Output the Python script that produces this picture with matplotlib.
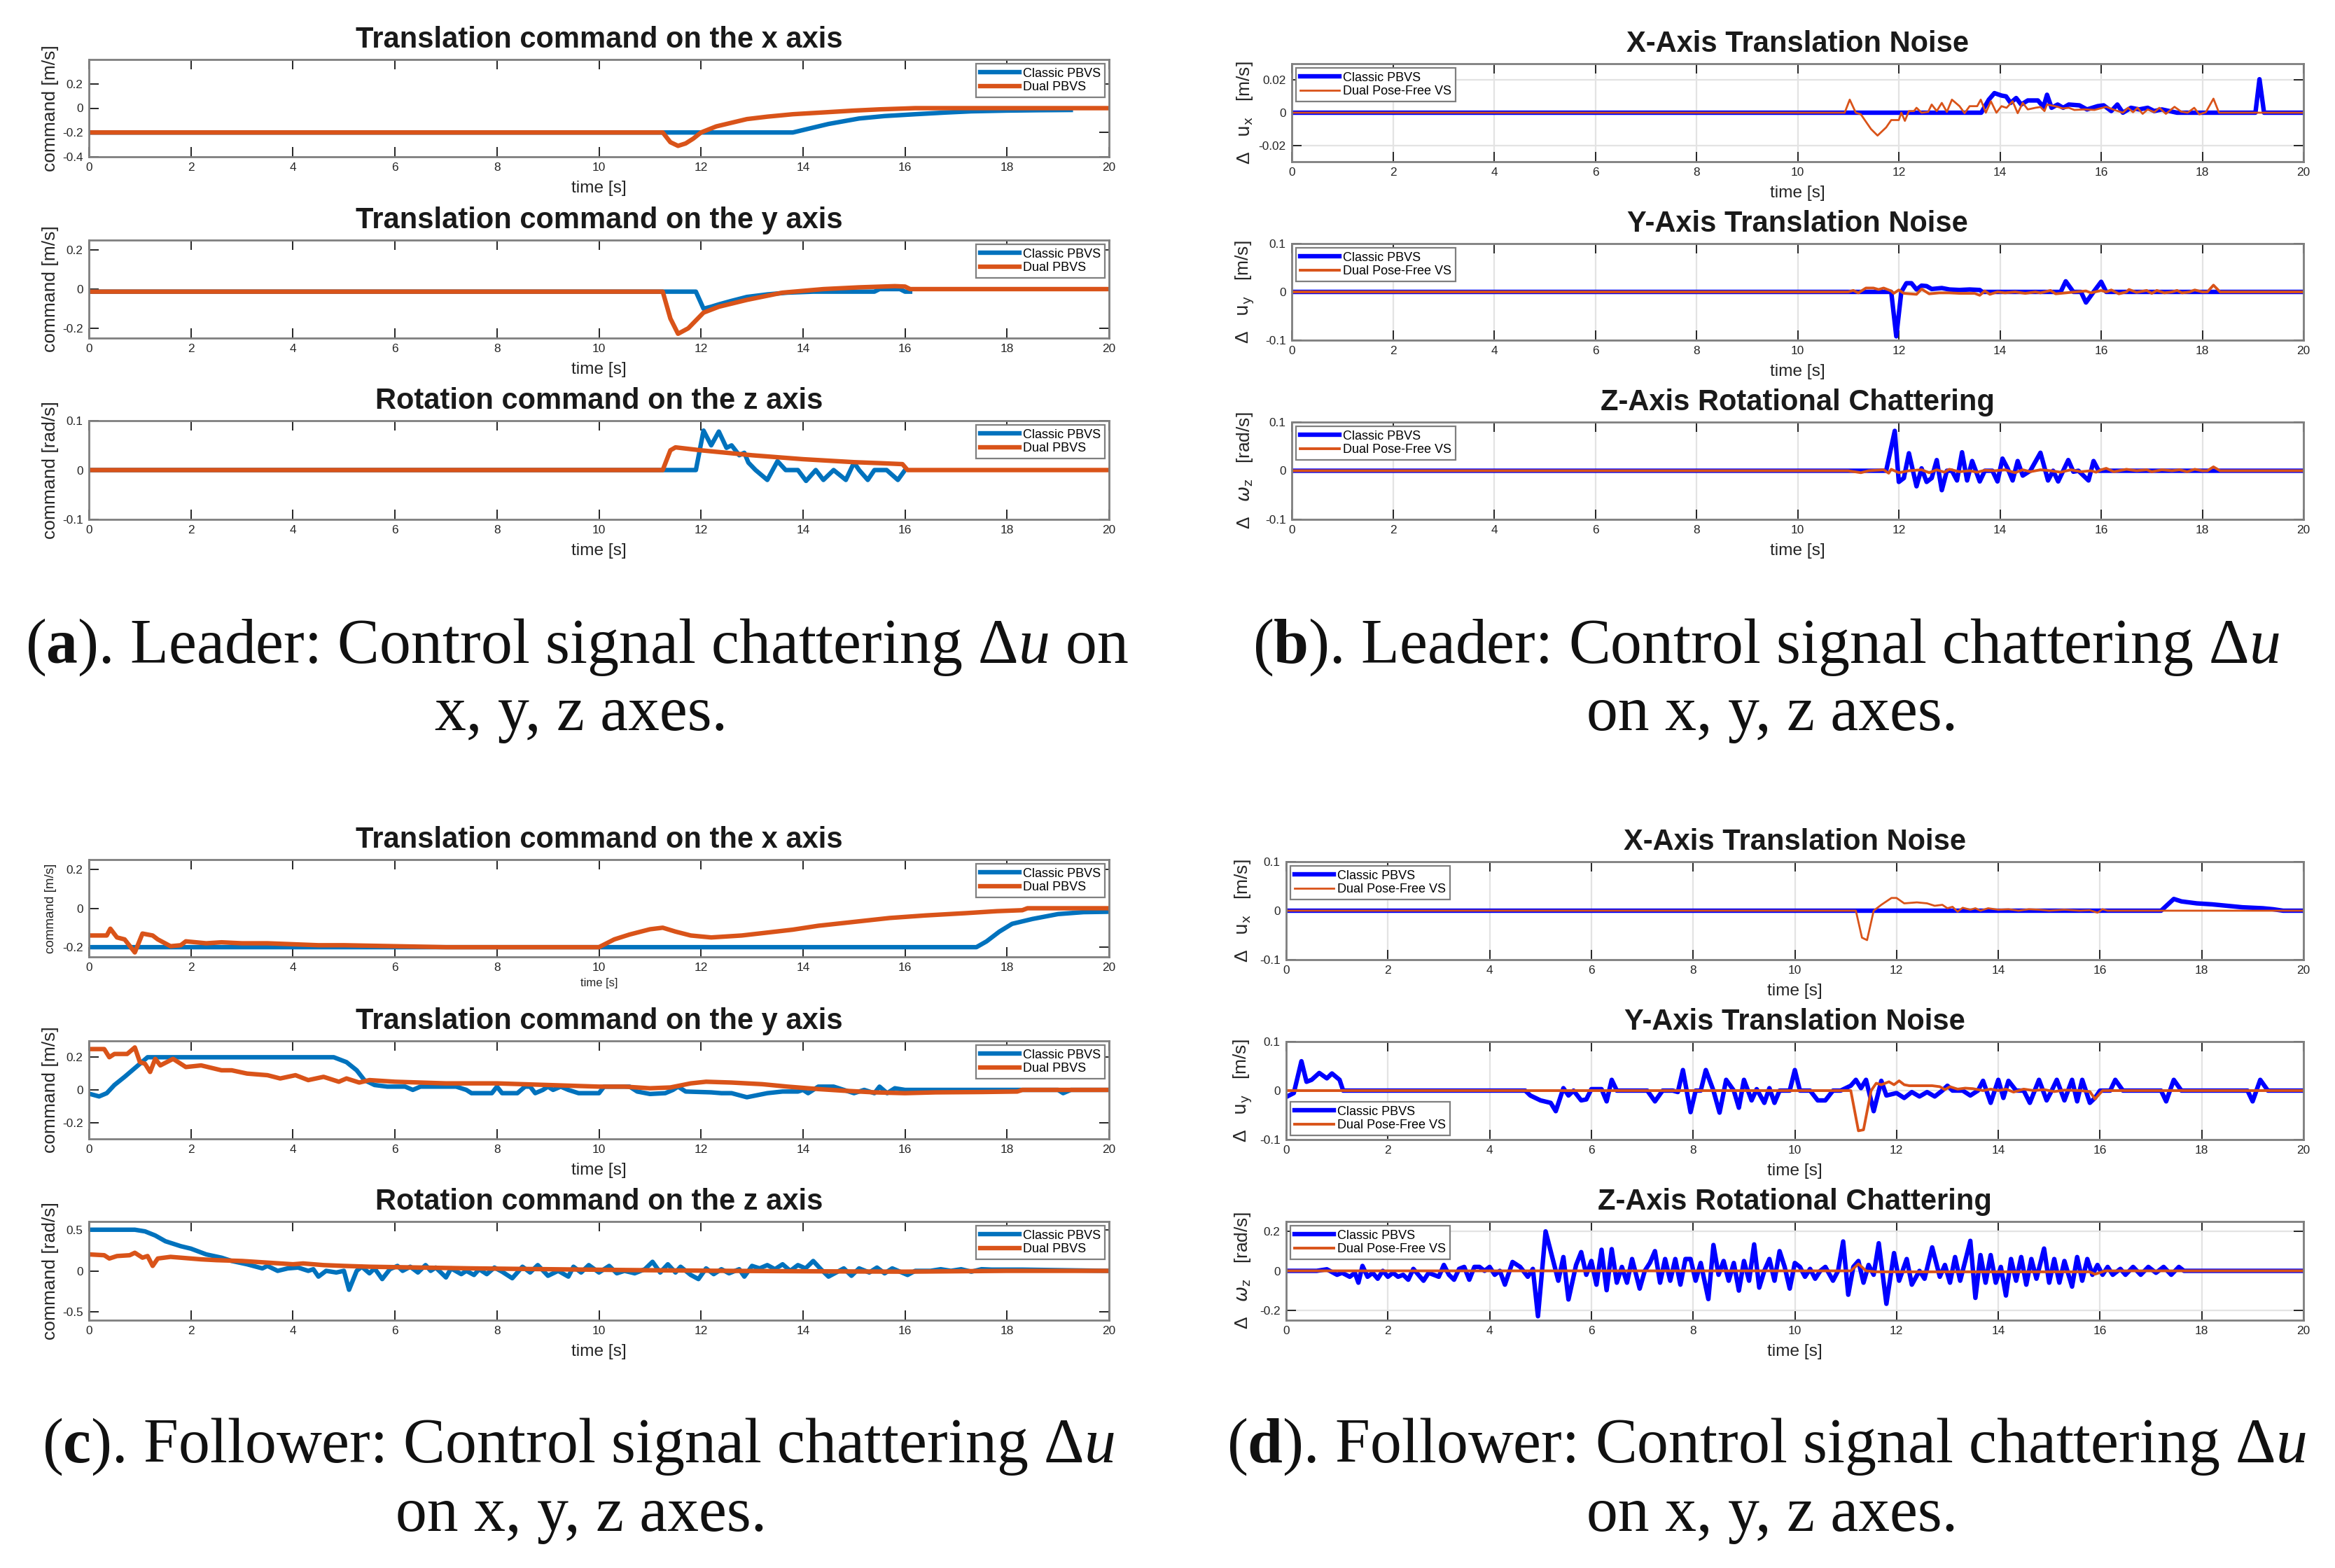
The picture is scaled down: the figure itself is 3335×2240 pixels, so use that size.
import numpy as np
import matplotlib
matplotlib.use("Agg")
import matplotlib.pyplot as plt

plt.rcParams['font.family'] = ['Liberation Sans', 'DejaVu Sans']
plt.rcParams['mathtext.fontset'] = 'custom'
plt.rcParams['mathtext.rm'] = 'Liberation Serif'
plt.rcParams['mathtext.it'] = 'Liberation Serif:italic'
plt.rcParams['mathtext.bf'] = 'Liberation Serif:bold'

W, H = 3335, 2240

# ---------------- data (time [s], value) ----------------
# (a) leader, classic PBVS vs dual PBVS
a1_classic = [(0, -0.2), (13.8, -0.2), (14.1, -0.17), (14.5, -0.13), (15.1, -0.085), (15.6, -0.065),
              (16.2, -0.05), (16.8, -0.036), (17.3, -0.026), (18.0, -0.02), (18.6, -0.017), (19.25, -0.015)]
a1_dual = [(0, -0.2), (11.25, -0.2), (11.4, -0.28), (11.55, -0.31), (11.7, -0.29), (11.85, -0.25),
           (12.0, -0.2), (12.3, -0.15), (12.6, -0.12), (12.9, -0.09), (13.3, -0.07), (13.8, -0.05),
           (14.4, -0.035), (15.0, -0.02), (15.5, -0.01), (16.0, -0.003), (16.2, 0.0), (20, 0.0)]

a2_classic = [(0, -0.013), (11.9, -0.013), (12.05, -0.1), (12.2, -0.09), (12.35, -0.078), (12.6, -0.06),
              (12.9, -0.04), (13.3, -0.027), (13.7, -0.018), (14.2, -0.013), (15.4, -0.013), (15.5, 0.0),
              (15.9, 0.0), (16.0, -0.013), (16.1, -0.013)]
a2_dual = [(0, -0.013), (11.25, -0.013), (11.4, -0.15), (11.55, -0.228), (11.75, -0.2), (11.9, -0.16),
           (12.05, -0.12), (12.35, -0.09), (12.9, -0.055), (13.6, -0.018), (14.4, 0.0), (15.1, 0.009),
           (15.8, 0.015), (16.0, 0.013), (16.1, 0.0), (20, 0.0)]

a3_classic = [(0, 0), (11.9, 0), (12.05, 0.08), (12.2, 0.05), (12.35, 0.078), (12.5, 0.045), (12.6, 0.05),
              (12.75, 0.03), (12.85, 0.035), (12.93, 0.015), (13.07, 0.0), (13.3, -0.02), (13.5, 0.018),
              (13.66, 0.0), (13.9, 0.0), (14.06, -0.022), (14.25, 0.0), (14.4, -0.02), (14.6, 0.0),
              (14.84, -0.02), (15.0, 0.015), (15.1, 0.0), (15.27, -0.02), (15.4, 0.0), (15.64, 0.0),
              (15.86, -0.02), (16.0, 0.0)]
a3_dual = [(0, 0), (11.25, 0), (11.4, 0.04), (11.5, 0.046), (12.0, 0.04), (12.5, 0.035), (13.0, 0.03),
           (13.5, 0.026), (14.0, 0.022), (14.5, 0.019), (15.0, 0.016), (15.5, 0.014), (15.95, 0.012),
           (16.05, 0.0), (20, 0.0)]

# (b) leader, chattering of classic PBVS vs dual pose-free VS
b1_classic = [(0, 0), (13.63, 0), (13.78, 0.008), (13.89, 0.012), (14.03, 0.0105), (14.12, 0.01),
              (14.21, 0.006), (14.32, 0.009), (14.42, 0.005), (14.55, 0.0075), (14.75, 0.0075),
              (14.86, 0.0035), (14.93, 0.011), (15.02, 0.003), (15.14, 0.005), (15.25, 0.003),
              (15.36, 0.005), (15.57, 0.0045), (15.72, 0.002), (15.93, 0.004), (16.05, 0.0045),
              (16.2, 0.001), (16.32, 0.005), (16.43, 0.0), (16.59, 0.003), (16.75, 0.002), (16.92, 0.003),
              (17.05, 0.001), (17.2, 0.002), (17.5, 0.0), (19.05, 0.0), (19.13, 0.0205), (19.22, 0.0), (20, 0.0)]
b1_dual = [(0, 0), (10.93, 0), (11.03, 0.008), (11.15, 0.0), (11.25, -0.001), (11.45, -0.01),
           (11.58, -0.014), (11.75, -0.009), (11.85, -0.0045), (12.0, -0.0045), (12.05, 0.0),
           (12.12, -0.005), (12.2, 0.001), (12.3, 0.001), (12.35, 0.003), (12.45, 0.0), (12.58, 0.0005),
           (12.65, 0.005), (12.75, 0.001), (12.85, 0.006), (12.95, 0.0005), (13.05, 0.008), (13.2, 0.004),
           (13.3, -0.0003), (13.4, 0.004), (13.55, 0.004), (13.62, 0.008), (13.72, 0.0), (13.82, 0.007),
           (13.93, 0.0), (14.03, 0.004), (14.13, 0.003), (14.25, 0.007), (14.35, -0.0003), (14.45, 0.006),
           (14.55, 0.002), (14.7, 0.003), (14.8, 0.0035), (14.88, 0.001), (14.93, 0.005), (15.14, 0.0036),
           (15.24, 0.0026), (15.36, 0.003), (15.47, 0.0017), (15.67, 0.002), (15.87, 0.0017), (16.1, 0.0036),
           (16.26, 0.0017), (16.43, 0.0), (16.53, 0.003), (16.63, 0.0003), (16.72, 0.003), (16.82, -0.0007),
           (16.92, 0.002), (17.05, 0.0003), (17.15, 0.003), (17.28, -0.0007), (17.45, 0.0036),
           (17.58, 0.0007), (17.71, 0.0), (17.84, 0.003), (17.94, -0.001), (18.07, 0.0003), (18.22, 0.0086),
           (18.33, 0.0), (20, 0.0)]

b2_classic = [(0, 0), (11.85, 0), (11.95, -0.092), (12.05, 0.0), (12.15, 0.018), (12.25, 0.018),
              (12.35, 0.005), (12.45, 0.013), (12.55, 0.012), (12.65, 0.006), (12.85, 0.008), (13.0, 0.005),
              (13.2, 0.004), (13.4, 0.005), (13.6, 0.004), (13.65, 0.0), (15.2, 0.0), (15.3, 0.022),
              (15.45, 0.0), (15.6, 0.0), (15.7, -0.022), (15.85, 0.0), (16.0, 0.021), (16.1, 0.0), (20, 0.0)]
b2_dual = [(0, 0), (11.0, 0), (11.1, 0.003), (11.2, -0.002), (11.35, 0.008), (11.5, 0.008), (11.6, 0.005),
           (11.7, 0.008), (11.85, 0.002), (11.9, -0.003), (12.0, 0.004), (12.1, -0.003), (12.35, -0.005),
           (12.45, 0.006), (12.6, -0.004), (12.8, -0.002), (13.0, -0.002), (13.2, -0.003), (13.5, -0.003),
           (13.6, -0.007), (13.7, 0.002), (13.8, -0.005), (13.95, 0.0), (14.1, -0.002), (14.3, 0.0),
           (14.5, -0.003), (14.7, 0.0), (14.8, -0.002), (15.0, 0.003), (15.1, -0.004), (15.3, -0.002),
           (15.5, 0.0), (15.7, 0.002), (15.8, -0.002), (16.0, 0.003), (16.1, 0.0), (16.2, 0.004),
           (16.35, -0.004), (16.5, 0.0), (16.55, 0.005), (16.7, -0.001), (16.9, 0.003), (17.0, -0.003),
           (17.1, 0.003), (17.25, -0.002), (17.4, 0.0), (17.5, 0.003), (17.6, -0.002), (17.75, 0.0),
           (17.85, 0.004), (18.0, 0.0), (18.1, 0.0), (18.22, 0.014), (18.35, 0.0), (20, 0.0)]

b3_classic = [(0, 0), (11.75, 0), (11.92, 0.082), (12.0, -0.023), (12.1, -0.015), (12.2, 0.036),
              (12.35, -0.032), (12.45, 0.005), (12.55, -0.023), (12.65, -0.015), (12.75, 0.022),
              (12.85, -0.04), (12.95, 0.0), (13.05, 0.0), (13.15, -0.02), (13.25, 0.038), (13.35, -0.02),
              (13.45, 0.02), (13.6, -0.022), (13.7, 0.0), (13.85, 0.0), (13.95, -0.022), (14.05, 0.025),
              (14.15, 0.005), (14.25, -0.02), (14.35, 0.02), (14.45, -0.01), (14.6, 0.0), (14.8, 0.037),
              (14.95, -0.02), (15.05, 0.0), (15.15, -0.022), (15.35, 0.022), (15.45, -0.002), (15.55, 0.0),
              (15.75, -0.02), (15.85, 0.02), (15.95, 0.0), (20, 0.0)]
b3_dual = [(0, 0), (11.0, 0), (11.25, -0.004), (11.4, 0.0), (11.7, 0.002), (11.8, -0.005), (11.85, 0.003),
           (12.0, -0.004), (12.2, 0.0), (12.45, 0.002), (12.6, -0.004), (12.75, 0.002), (12.9, -0.003),
           (13.0, 0.003), (13.2, -0.002), (13.4, 0.0), (13.55, -0.003), (13.7, 0.001), (13.9, 0.0),
           (14.1, 0.002), (14.3, -0.004), (14.45, 0.002), (14.6, -0.002), (14.8, 0.002), (15.0, 0.0),
           (15.2, -0.003), (15.4, 0.002), (15.6, -0.002), (15.8, 0.0), (15.9, -0.003), (16.0, 0.002),
           (16.1, 0.005), (16.25, -0.002), (16.5, 0.003), (16.7, 0.0), (16.9, 0.002), (17.0, -0.002),
           (17.2, 0.002), (17.4, 0.0), (17.55, 0.002), (17.7, -0.002), (17.85, 0.003), (18.0, 0.0),
           (18.1, 0.0), (18.22, 0.008), (18.35, 0.0), (20, 0.0)]

# (c) follower, classic PBVS vs dual PBVS
c1_classic = [(0, -0.2), (17.4, -0.2), (17.6, -0.17), (17.85, -0.12), (18.1, -0.08), (18.5, -0.055),
              (19.0, -0.03), (19.5, -0.02), (20, -0.018)]
c1_dual = [(0, -0.14), (0.35, -0.14), (0.42, -0.105), (0.55, -0.15), (0.7, -0.16), (0.9, -0.227),
           (1.05, -0.13), (1.25, -0.14), (1.35, -0.16), (1.6, -0.195), (1.8, -0.19), (1.9, -0.17),
           (2.3, -0.18), (2.6, -0.175), (3.0, -0.18), (3.5, -0.18), (4.0, -0.185), (4.5, -0.19),
           (5.0, -0.19), (6.0, -0.195), (7.0, -0.2), (8.0, -0.2), (9.0, -0.2), (10.0, -0.2), (10.3, -0.16),
           (10.6, -0.135), (11.0, -0.108), (11.25, -0.1), (11.5, -0.12), (11.8, -0.14), (12.2, -0.15),
           (12.8, -0.14), (13.3, -0.125), (13.8, -0.11), (14.3, -0.09), (15.0, -0.07), (15.7, -0.05),
           (16.4, -0.037), (17.2, -0.025), (17.8, -0.015), (18.3, -0.01), (18.4, 0.0), (20, 0.0)]

c2_classic = [(0, -0.023), (0.2, -0.04), (0.35, -0.02), (0.5, 0.03), (0.7, 0.08), (0.85, 0.12), (1.0, 0.16),
              (1.15, 0.2), (4.8, 0.2), (5.05, 0.17), (5.25, 0.12), (5.4, 0.06), (5.6, 0.03), (5.85, 0.02),
              (6.2, 0.02), (6.35, 0.0), (6.5, 0.02), (7.2, 0.02), (7.4, 0.0), (7.5, -0.02), (7.9, -0.02),
              (8.0, 0.02), (8.1, -0.02), (8.4, -0.02), (8.55, 0.02), (8.65, 0.02), (8.75, -0.02), (8.9, 0.0),
              (9.0, 0.02), (9.1, 0.0), (9.25, 0.02), (9.4, 0.0), (9.6, -0.02), (10.0, -0.02), (10.1, 0.02),
              (10.6, 0.02), (10.75, -0.01), (11.0, -0.025), (11.3, -0.02), (11.45, 0.0), (11.55, 0.02),
              (11.7, -0.01), (12.2, -0.015), (12.4, -0.02), (12.6, -0.02), (12.9, -0.045), (13.3, -0.02),
              (13.6, -0.01), (13.9, -0.01), (14.0, 0.0), (14.1, -0.02), (14.3, 0.02), (14.6, 0.02),
              (14.8, 0.0), (15.0, -0.02), (15.2, 0.0), (15.4, -0.02), (15.5, 0.02), (15.65, -0.02),
              (15.8, 0.01), (16.0, 0.0), (19.0, 0.0), (19.1, -0.02), (19.25, 0.0), (20, 0.0)]
c2_dual = [(0, 0.25), (0.3, 0.25), (0.4, 0.2), (0.5, 0.22), (0.75, 0.22), (0.9, 0.26), (1.0, 0.17),
           (1.1, 0.16), (1.2, 0.11), (1.3, 0.19), (1.4, 0.15), (1.65, 0.19), (1.9, 0.14), (2.2, 0.15),
           (2.6, 0.12), (2.8, 0.12), (3.1, 0.1), (3.5, 0.09), (3.75, 0.07), (4.05, 0.09), (4.3, 0.06),
           (4.6, 0.08), (4.9, 0.05), (5.05, 0.07), (5.3, 0.045), (5.5, 0.06), (6.0, 0.05), (7.0, 0.04),
           (8.0, 0.04), (9.0, 0.03), (10.0, 0.02), (10.5, 0.02), (11.0, 0.01), (11.4, 0.015), (11.8, 0.04),
           (12.1, 0.05), (12.6, 0.045), (13.2, 0.035), (13.7, 0.02), (14.3, 0.005), (14.8, -0.005),
           (15.4, -0.015), (16.0, -0.02), (16.6, -0.015), (17.5, -0.013), (18.2, -0.01), (18.3, 0.0), (20, 0.0)]

c3_classic = [(0, 0.5), (0.9, 0.5), (1.1, 0.48), (1.3, 0.43), (1.5, 0.36), (1.65, 0.33), (1.8, 0.3),
              (2.0, 0.27), (2.3, 0.2), (2.6, 0.16), (2.8, 0.12), (3.1, 0.08), (3.4, 0.03), (3.5, 0.06),
              (3.7, 0.0), (3.9, 0.03), (4.1, 0.04), (4.3, 0.0), (4.4, 0.02), (4.5, -0.07), (4.65, 0.0),
              (4.85, -0.02), (5.0, 0.0), (5.1, -0.23), (5.25, 0.0), (5.35, 0.05), (5.5, -0.03), (5.6, 0.03),
              (5.75, -0.1), (5.9, 0.02), (6.05, 0.06), (6.15, 0.0), (6.3, 0.05), (6.45, -0.02), (6.6, 0.07),
              (6.7, 0.0), (6.8, 0.04), (7.0, -0.08), (7.1, 0.03), (7.3, -0.04), (7.4, 0.0), (7.55, -0.05),
              (7.65, 0.02), (7.8, -0.04), (7.95, 0.04), (8.1, -0.01), (8.3, -0.09), (8.5, 0.05), (8.65, -0.02),
              (8.8, 0.07), (9.0, -0.06), (9.2, 0.0), (9.4, -0.07), (9.5, 0.05), (9.65, -0.02), (9.8, 0.07),
              (10.0, -0.02), (10.2, 0.06), (10.35, -0.03), (10.5, 0.0), (10.7, -0.03), (10.9, 0.02),
              (11.05, 0.11), (11.2, -0.02), (11.35, 0.08), (11.5, -0.02), (11.6, 0.05), (11.8, -0.05),
              (11.95, -0.1), (12.1, 0.03), (12.25, -0.04), (12.4, 0.02), (12.55, -0.03), (12.75, 0.02),
              (12.85, -0.07), (13.0, 0.06), (13.15, 0.03), (13.3, 0.07), (13.45, 0.02), (13.6, 0.08),
              (13.75, 0.0), (13.9, 0.07), (14.05, 0.03), (14.2, 0.12), (14.35, 0.02), (14.5, -0.07),
              (14.65, -0.02), (14.8, 0.03), (14.95, -0.06), (15.1, 0.03), (15.3, -0.02), (15.45, 0.04),
              (15.6, -0.03), (15.75, 0.03), (15.9, -0.01), (16.05, -0.05), (16.2, 0.0), (16.5, 0.0),
              (16.7, 0.02), (16.9, 0.0), (17.1, 0.02), (17.3, -0.01), (17.5, 0.02), (17.7, 0.015),
              (18.3, 0.015), (20, 0.0)]
c3_dual = [(0, 0.2), (0.3, 0.19), (0.4, 0.15), (0.55, 0.18), (0.8, 0.19), (0.9, 0.22), (1.05, 0.16),
           (1.15, 0.18), (1.25, 0.06), (1.35, 0.15), (1.6, 0.17), (1.8, 0.16), (2.2, 0.14), (2.5, 0.13),
           (3.0, 0.12), (3.5, 0.1), (4.0, 0.08), (4.2, 0.09), (4.6, 0.07), (5.0, 0.06), (5.5, 0.05),
           (6.5, 0.04), (7.5, 0.03), (9.0, 0.02), (10.5, 0.01), (12.5, 0.0), (14.0, -0.005), (16.0, -0.01),
           (18.0, 0.0), (20, 0.0)]

# (d) follower, chattering of classic PBVS vs dual pose-free VS
d1_classic = [(0, 0), (17.2, 0), (17.45, 0.024), (17.6, 0.019), (17.9, 0.015), (18.2, 0.013),
              (18.5, 0.01), (18.8, 0.007), (19.2, 0.005), (19.4, 0.003), (19.6, 0.0), (20, 0.0)]
d1_dual = [(0, 0), (11.2, 0), (11.32, -0.055), (11.42, -0.06), (11.55, 0.0), (11.7, 0.012), (11.9, 0.026),
           (12.0, 0.026), (12.15, 0.015), (12.4, 0.017), (12.6, 0.015), (12.75, 0.01), (12.9, 0.012),
           (13.0, 0.005), (13.1, 0.008), (13.2, -0.002), (13.3, 0.006), (13.45, 0.002), (13.55, 0.005),
           (13.65, 0.0), (13.8, 0.005), (14.0, 0.002), (14.2, 0.003), (14.4, 0.0), (14.6, 0.003),
           (14.8, 0.002), (15.0, 0.0), (15.3, 0.002), (15.6, 0.0), (15.8, 0.001), (15.95, -0.004),
           (16.05, 0.003), (16.15, 0.0), (20, 0.0)]

d2_classic = [(0, -0.013), (0.15, -0.005), (0.3, 0.06), (0.4, 0.018), (0.5, 0.022), (0.65, 0.036),
              (0.8, 0.025), (0.9, 0.035), (1.05, 0.022), (1.12, 0.0), (4.7, 0.0), (4.8, -0.01), (5.0, -0.02),
              (5.2, -0.025), (5.3, -0.042), (5.45, 0.005), (5.55, -0.01), (5.65, 0.0), (5.8, -0.02),
              (5.9, -0.018), (6.0, 0.003), (6.2, 0.003), (6.3, -0.022), (6.4, 0.022), (6.5, 0.0), (7.1, 0.0),
              (7.25, -0.022), (7.4, 0.0), (7.6, 0.0), (7.7, -0.003), (7.8, 0.042), (7.95, -0.044),
              (8.05, 0.0), (8.15, 0.0), (8.25, 0.042), (8.4, 0.0), (8.52, -0.045), (8.65, 0.022), (8.8, 0.0),
              (8.9, -0.035), (9.0, 0.022), (9.15, -0.02), (9.25, 0.003), (9.4, -0.025), (9.5, 0.005),
              (9.6, -0.025), (9.7, 0.0), (9.9, 0.0), (10.0, 0.042), (10.1, 0.0), (10.3, 0.0), (10.45, -0.02),
              (10.6, -0.02), (10.75, 0.0), (10.9, 0.0), (11.1, 0.01), (11.2, 0.022), (11.3, 0.005),
              (11.4, 0.022), (11.55, -0.042), (11.7, 0.02), (11.8, -0.01), (12.0, -0.005), (12.15, -0.015),
              (12.3, -0.003), (12.45, -0.012), (12.6, -0.003), (12.75, -0.012), (12.9, 0.0), (13.0, 0.01),
              (13.1, 0.0), (13.3, 0.0), (13.45, -0.01), (13.6, 0.0), (13.7, 0.02), (13.85, -0.025),
              (14.0, 0.022), (14.1, -0.015), (14.2, 0.02), (14.35, 0.0), (14.5, 0.0), (14.62, -0.025),
              (14.8, 0.022), (14.95, -0.02), (15.05, 0.0), (15.15, 0.022), (15.3, -0.02), (15.45, 0.022),
              (15.55, -0.022), (15.65, 0.022), (15.8, -0.025), (15.9, -0.015), (16.0, 0.0), (16.2, 0.0),
              (16.3, 0.022), (16.45, 0.0), (17.2, 0.0), (17.3, -0.022), (17.45, 0.022), (17.6, 0.0),
              (18.9, 0.0), (19.0, -0.022), (19.15, 0.022), (19.3, 0.0), (20, 0.0)]
d2_dual = [(0, 0), (11.1, 0), (11.25, -0.082), (11.35, -0.08), (11.5, 0.0), (11.6, 0.015), (11.7, 0.012),
           (11.85, 0.018), (11.95, 0.012), (12.05, 0.02), (12.15, 0.012), (12.25, 0.01), (12.5, 0.01),
           (12.7, 0.01), (12.85, 0.008), (12.95, 0.002), (13.05, 0.008), (13.2, 0.003), (13.35, 0.005),
           (13.5, 0.004), (13.7, 0.0), (13.85, 0.003), (14.0, 0.0), (14.15, 0.003), (14.3, -0.003),
           (14.5, 0.003), (14.7, 0.0), (14.9, 0.002), (15.1, -0.002), (15.3, 0.001), (15.6, 0.0),
           (15.8, -0.002), (15.9, -0.017), (16.05, 0.0), (20, 0.0)]

d3_classic = [(0, 0), (0.6, 0), (0.8, 0.008), (1.0, -0.02), (1.1, -0.01), (1.25, -0.03), (1.35, -0.01),
              (1.42, -0.06), (1.5, 0.025), (1.6, -0.03), (1.7, -0.01), (1.8, -0.04), (1.9, 0.0), (2.0, -0.03),
              (2.1, -0.01), (2.2, -0.03), (2.3, -0.02), (2.4, -0.045), (2.5, 0.01), (2.6, -0.02), (2.7, -0.05),
              (2.8, -0.01), (3.0, -0.03), (3.1, 0.03), (3.2, -0.02), (3.3, -0.045), (3.4, 0.01), (3.5, 0.02),
              (3.6, -0.045), (3.7, 0.02), (3.8, 0.02), (3.9, 0.0), (4.0, 0.02), (4.1, -0.02), (4.2, 0.0),
              (4.3, -0.07), (4.45, 0.045), (4.6, 0.02), (4.75, -0.03), (4.85, 0.01), (4.95, -0.23),
              (5.1, 0.2), (5.25, 0.05), (5.35, -0.05), (5.45, 0.07), (5.55, -0.145), (5.7, 0.03), (5.8, 0.095),
              (5.9, -0.02), (6.0, 0.05), (6.1, -0.07), (6.2, 0.107), (6.3, -0.098), (6.4, 0.11), (6.5, -0.06),
              (6.6, 0.02), (6.7, -0.06), (6.8, 0.06), (6.95, -0.09), (7.05, 0.0), (7.15, 0.04), (7.25, 0.1),
              (7.35, -0.06), (7.45, 0.06), (7.55, -0.05), (7.65, 0.06), (7.75, -0.07), (7.85, 0.06),
              (7.95, 0.06), (8.05, -0.05), (8.15, 0.04), (8.3, -0.143), (8.4, 0.131), (8.5, -0.02),
              (8.6, 0.05), (8.7, -0.05), (8.8, 0.04), (8.9, -0.1), (9.0, 0.05), (9.1, -0.05), (9.2, 0.134),
              (9.3, -0.085), (9.4, 0.0), (9.5, 0.06), (9.6, -0.05), (9.7, 0.1), (9.8, 0.02), (9.9, -0.09),
              (10.0, 0.04), (10.1, 0.02), (10.2, -0.03), (10.3, 0.01), (10.4, -0.04), (10.5, 0.0),
              (10.6, 0.02), (10.75, -0.05), (10.85, 0.0), (10.95, 0.149), (11.05, -0.121), (11.15, 0.02),
              (11.25, 0.05), (11.35, -0.06), (11.45, 0.03), (11.55, -0.02), (11.65, 0.14), (11.8, -0.167),
              (11.95, 0.09), (12.05, -0.05), (12.2, 0.06), (12.3, -0.07), (12.45, 0.0), (12.55, -0.04),
              (12.7, 0.119), (12.85, -0.03), (12.95, 0.03), (13.05, -0.06), (13.15, 0.07), (13.25, -0.05),
              (13.35, 0.05), (13.45, 0.152), (13.55, -0.137), (13.65, 0.08), (13.75, -0.06), (13.85, 0.08),
              (13.95, -0.06), (14.05, 0.02), (14.15, -0.125), (14.25, 0.06), (14.35, -0.05), (14.45, 0.07),
              (14.55, -0.07), (14.65, 0.06), (14.75, -0.04), (14.9, 0.113), (15.0, -0.06), (15.1, 0.06),
              (15.2, -0.06), (15.3, 0.05), (15.45, -0.08), (15.55, 0.07), (15.65, -0.05), (15.75, 0.06),
              (15.85, -0.02), (15.95, 0.03), (16.05, -0.02), (16.15, 0.02), (16.25, -0.02), (16.4, 0.01),
              (16.5, -0.02), (16.65, 0.02), (16.8, -0.02), (16.95, 0.02), (17.1, -0.01), (17.25, 0.02),
              (17.4, -0.02), (17.55, 0.02), (17.65, 0.0), (20, 0.0)]
d3_dual = [(0, 0), (11.1, 0), (11.25, 0.035), (11.4, 0.0), (11.6, -0.005), (15.8, -0.005), (15.9, -0.017),
           (16.1, 0.0), (20, 0.0)]

# ---------------- text / axes settings ----------------
titles_ac = ["Translation command on the x axis", "Translation command on the y axis",
             "Rotation command on the z axis"]
titles_bd = ["X-Axis Translation Noise", "Y-Axis Translation Noise", "Z-Axis Rotational Chattering"]
ylabels_ac = ["command [m/s]", "command [m/s]", "command [rad/s]"]
ylabels_bd = [r"Δ   $\mathrm{u}_{\mathrm{x}}$   [m/s]", r"Δ   $\mathrm{u}_{\mathrm{y}}$   [m/s]",
              r"Δ   $\omega_{\mathrm{z}}$   [rad/s]"]
legend_ac = ["Classic PBVS", "Dual PBVS"]
legend_bd = ["Classic PBVS", "Dual Pose-Free VS"]
xticks = list(range(0, 21, 2))

captions = {
    'a': (r"($\mathbf{a}$). Leader: Control signal chattering $\Delta u$ on", "x, y, z axes."),
    'b': (r"($\mathbf{b}$). Leader: Control signal chattering $\Delta u$", "on x, y, z axes."),
    'c': (r"($\mathbf{c}$). Follower: Control signal chattering $\Delta u$", "on x, y, z axes."),
    'd': (r"($\mathbf{d}$). Follower: Control signal chattering $\Delta u$", "on x, y, z axes."),
}

BLUE_AC, BLUE_BD, ORANGE = '#0072BD', '#0000FF', '#D95319'
SPINE = '#7f7f7f'

# pixel boxes [x0, y0, x1, y1]
boxes = {
    'a': [(127, 85, 1584, 224), (127, 343, 1584, 483), (127, 601, 1584, 742)],
    'b': [(1845, 91, 3290, 231), (1845, 348, 3290, 486), (1845, 603, 3290, 742)],
    'c': [(127, 1228, 1584, 1367), (127, 1487, 1584, 1627), (127, 1745, 1584, 1886)],
    'd': [(1837, 1231, 3290, 1371), (1837, 1488, 3290, 1628), (1837, 1745, 3290, 1886)],
}

panel_series = {
    'a': [(a1_classic, a1_dual), (a2_classic, a2_dual), (a3_classic, a3_dual)],
    'b': [(b1_classic, b1_dual), (b2_classic, b2_dual), (b3_classic, b3_dual)],
    'c': [(c1_classic, c1_dual), (c2_classic, c2_dual), (c3_classic, c3_dual)],
    'd': [(d1_classic, d1_dual), (d2_classic, d2_dual), (d3_classic, d3_dual)],
}

yaxes = {
    'a': [((-0.4, 0.4), [-0.4, -0.2, 0, 0.2], ['-0.4', '-0.2', '0', '0.2']),
          ((-0.25, 0.25), [-0.2, 0, 0.2], ['-0.2', '0', '0.2']),
          ((-0.1, 0.1), [-0.1, 0, 0.1], ['-0.1', '0', '0.1'])],
    'b': [((-0.03, 0.03), [-0.02, 0, 0.02], ['-0.02', '0', '0.02']),
          ((-0.1, 0.1), [-0.1, 0, 0.1], ['-0.1', '0', '0.1']),
          ((-0.1, 0.1), [-0.1, 0, 0.1], ['-0.1', '0', '0.1'])],
    'c': [((-0.25, 0.25), [-0.2, 0, 0.2], ['-0.2', '0', '0.2']),
          ((-0.3, 0.3), [-0.2, 0, 0.2], ['-0.2', '0', '0.2']),
          ((-0.6, 0.6), [-0.5, 0, 0.5], ['-0.5', '0', '0.5'])],
    'd': [((-0.1, 0.1), [-0.1, 0, 0.1], ['-0.1', '0', '0.1']),
          ((-0.1, 0.1), [-0.1, 0, 0.1], ['-0.1', '0', '0.1']),
          ((-0.25, 0.25), [-0.2, 0, 0.2], ['-0.2', '0', '0.2'])],
}

# ylabel centre x position in pixels
ylabel_x = {'a': 72, 'b': 1778, 'c': 72, 'd': 1775}


def add_px_axes(fig, box):
    x0, y0, x1, y1 = box
    return fig.add_axes([x0 / W, 1 - y1 / H, (x1 - x0) / W, (y1 - y0) / H])


fig = plt.figure(figsize=(W / 200, H / 200), dpi=200)

for key in 'abcd':
    matlab_pair = key in 'ac'
    for i in range(3):
        box = boxes[key][i]
        ax = add_px_axes(fig, box)
        classic, dual = panel_series[key][i]
        ct, cv = zip(*classic)
        dt, dv = zip(*dual)
        if matlab_pair:
            ax.plot(ct, cv, color=BLUE_AC, lw=2.3, label=legend_ac[0])
            ax.plot(dt, dv, color=ORANGE, lw=2.3, label=legend_ac[1])
        else:
            ax.plot(ct, cv, color=BLUE_BD, lw=2.3, label=legend_bd[0])
            ax.plot(dt, dv, color=ORANGE, lw=1.0 if i == 0 else 1.4, label=legend_bd[1])
            ax.grid(True, color='#e3e3e3', lw=0.8)
            ax.set_axisbelow(True)

        ylim, yt, ytl = yaxes[key][i]
        ax.set_xlim(0, 20)
        ax.set_ylim(*ylim)
        ax.set_xticks(xticks)
        ax.set_xticklabels([str(x) for x in xticks])
        ax.set_yticks(yt)
        ax.set_yticklabels(ytl)
        ax.tick_params(direction='in', top=True, right=True, length=5, width=0.7,
                       labelsize=6.2, colors='#262626', pad=3)
        for sp in ax.spines.values():
            sp.set_color(SPINE)
            sp.set_linewidth(1.0)

        hpx = box[3] - box[1]
        wpx = box[2] - box[0]
        small = (key == 'c' and i == 0)
        ax.set_title(titles_ac[i] if matlab_pair else titles_bd[i], fontsize=15, fontweight='bold',
                     color='#1a1a1a', pad=6)
        ax.set_xlabel("time [s]", fontsize=6 if small else 8.8, color='#262626', va='center')
        ax.xaxis.set_label_coords(0.5, -(38 if small else 45) / hpx)
        ylab = ylabels_ac[i] if matlab_pair else ylabels_bd[i]
        ax.set_ylabel(ylab, fontsize=6.8 if small else 9.5, color='#262626', va='center',
                      math_fontfamily='dejavusans')
        ax.yaxis.set_label_coords((ylabel_x[key] - box[0]) / wpx, 0.5)

        if matlab_pair:
            loc = 'upper right'
        else:
            loc = 'lower left' if (key == 'd' and i == 1) else 'upper left'
        leg = ax.legend(loc=loc, fontsize=6.5, handlelength=3.1, handletextpad=0.3,
                        labelspacing=0.15, borderpad=0.3, borderaxespad=0.35,
                        fancybox=False, framealpha=1.0, edgecolor=SPINE)
        leg.get_frame().set_linewidth(0.8)

# captions
cap_pos = {'a': (824, 925, 830, 1021), 'b': (2523, 925, 2531, 1021),
           'c': (826, 2067, 830, 2165), 'd': (2523, 2067, 2531, 2165)}
for key in 'abcd':
    l1, l2 = captions[key]
    x1, y1, x2, y2 = cap_pos[key]
    fig.text(x1 / W, 1 - y1 / H, l1, ha='center', va='center', fontsize=32.3,
             family='Liberation Serif', color='#111111')
    fig.text(x2 / W, 1 - y2 / H, l2, ha='center', va='center', fontsize=32.3,
             family='Liberation Serif', color='#111111')

fig.savefig("out.png", dpi=200, facecolor='white')
